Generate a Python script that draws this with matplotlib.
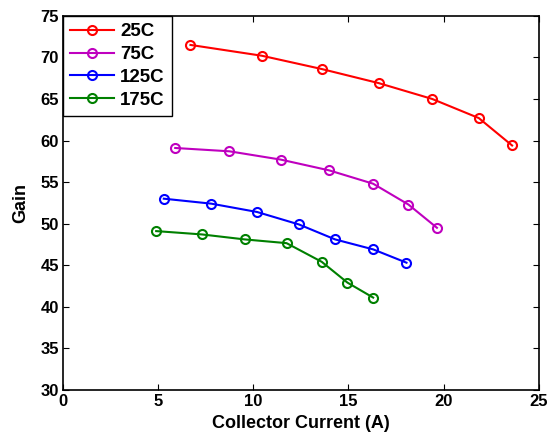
import matplotlib
matplotlib.use('Agg')
import matplotlib.pyplot as plt

plt.rcParams['font.family'] = ['Liberation Sans', 'DejaVu Sans']
plt.rcParams['font.weight'] = 'bold'

# Datos
i_25 = [6.7, 10.45, 13.6, 16.6, 19.4, 21.85, 23.6]
g_25 = [71.5, 70.2, 68.6, 66.9, 65.0, 62.7, 59.4]

i_75 = [5.9, 8.75, 11.45, 14.0, 16.3, 18.15, 19.65]
g_75 = [59.1, 58.7, 57.7, 56.4, 54.8, 52.3, 49.5]

i_125 = [5.3, 7.8, 10.2, 12.4, 14.3, 16.3, 18.05]
g_125 = [53.0, 52.4, 51.4, 49.9, 48.1, 46.9, 45.3]

i_175 = [4.9, 7.3, 9.55, 11.75, 13.6, 14.95, 16.3]
g_175 = [49.1, 48.7, 48.1, 47.65, 45.4, 42.9, 41.1]

etiquetas = ['25C', '75C', '125C', '175C']
colores = ['#ff0000', '#bf00bf', '#0000ff', '#008000']

fig = plt.figure(figsize=(5.52, 4.40), dpi=100)
ax = fig.add_axes([0.114, 0.114, 0.862, 0.85])

series = [(i_25, g_25), (i_75, g_75), (i_125, g_125), (i_175, g_175)]
for (x, y), etiqueta, c in zip(series, etiquetas, colores):
    ax.plot(x, y, '-o', color=c, lw=1.5, ms=6.5, mfc='none', mew=1.5, label=etiqueta)

ax.set_xlim(0, 25)
ax.set_ylim(30, 75)
ax.set_xticks(range(0, 26, 5))
ax.set_yticks(range(30, 76, 5))
ax.tick_params(direction='in', top=True, right=True, labelsize=12, length=4, width=0.8, pad=3)
for lbl in ax.get_xticklabels() + ax.get_yticklabels():
    lbl.set_fontweight('bold')
for s in ax.spines.values():
    s.set_linewidth(1.2)

ax.set_xlabel('Collector Current (A)', fontsize=13, fontweight='bold', labelpad=4)
ax.set_ylabel('Gain', fontsize=13, fontweight='bold', labelpad=8)

leg = ax.legend(loc='upper left', borderaxespad=0, fancybox=False, fontsize=13.5,
                handlelength=2.3, handletextpad=0.35, labelspacing=0.3,
                edgecolor='black', framealpha=1)
leg.get_frame().set_linewidth(1.0)
for t in leg.get_texts():
    t.set_fontweight('bold')

plt.savefig('out.png', dpi=100)
plt.close()
